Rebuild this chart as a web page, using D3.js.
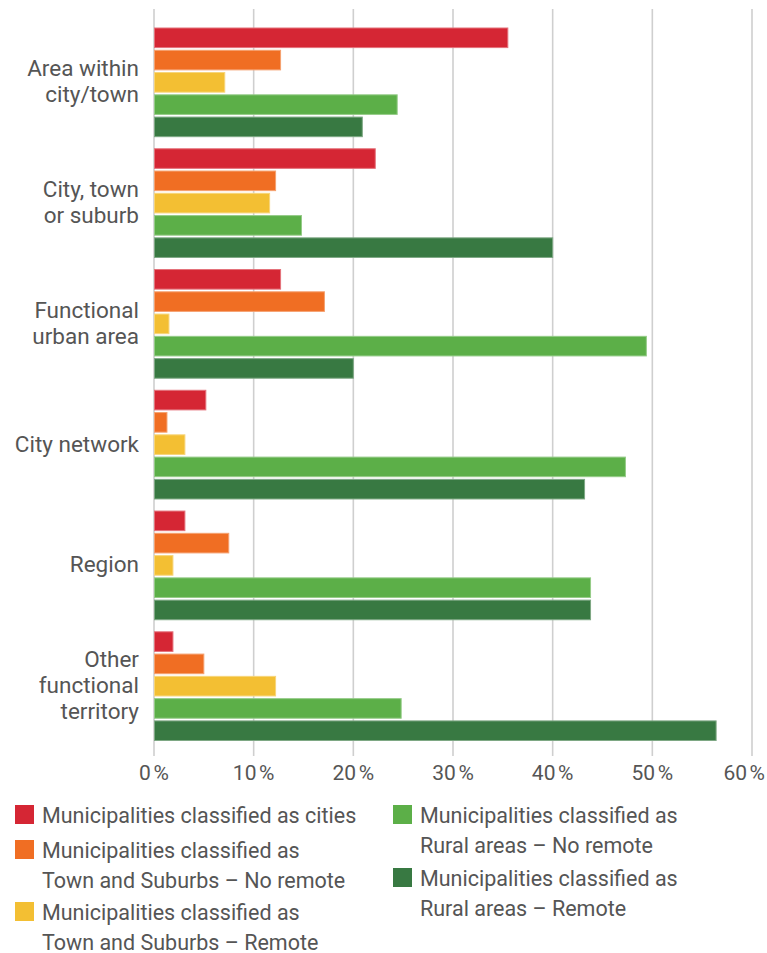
<!DOCTYPE html>
<html>
<head>
<meta charset="utf-8">
<script src="https://cdn.jsdelivr.net/npm/d3@7"></script>
<style>
  html, body { margin: 0; padding: 0; background: #fff; }
  svg text { font-family: Roboto, "Noto Sans", sans-serif; fill: #555; }
</style>
</head>
<body>
<svg id="chart" width="767" height="953"></svg>
<script>
// Territorial levels (y categories), each may span several lines
const categories = [
  ["Area within", "city/town"],
  ["City, town", "or suburb"],
  ["Functional", "urban area"],
  ["City network"],
  ["Region"],
  ["Other", "functional", "territory"]
];

// Series names, colours and values (share of municipalities, %)
const seriesNames = [
  "Municipalities classified as cities",
  "Municipalities classified as Town and Suburbs – No remote",
  "Municipalities classified as Town and Suburbs – Remote",
  "Municipalities classified as Rural areas – No remote",
  "Municipalities classified as Rural areas – Remote"
];
const seriesColors = ["#d52634", "#f06e23", "#f3bf33", "#5caf48", "#387942"];

const cities        = [35.5, 22.2, 12.7,  5.2,  3.1,  1.9];
const townsNoRemote = [12.7, 12.2, 17.1,  1.3,  7.5,  5.0];
const townsRemote   = [ 7.1, 11.6,  1.5,  3.1,  1.9, 12.2];
const ruralNoRemote = [24.4, 14.8, 49.4, 47.3, 43.8, 24.8];
const ruralRemote   = [20.9, 40.0, 20.0, 43.2, 43.8, 56.4];
const seriesValues = [cities, townsNoRemote, townsRemote, ruralNoRemote, ruralRemote];

const xTicks = [0, 10, 20, 30, 40, 50, 60];

// Legend layout: [series index, column, label lines]
const legendItems = [
  [0, 0, ["Municipalities classified as cities"]],
  [1, 0, ["Municipalities classified as", "Town and Suburbs – No remote"]],
  [2, 0, ["Municipalities classified as", "Town and Suburbs – Remote"]],
  [3, 1, ["Municipalities classified as", "Rural areas – No remote"]],
  [4, 1, ["Municipalities classified as", "Rural areas – Remote"]]
];

const W = 767;
const svg = d3.select("#chart");

const x = d3.scaleLinear().domain([0, 60]).range([154, 752]);
const y0 = d3.scaleBand().domain(d3.range(categories.length)).range([28, 740.5]).paddingInner(0.1);
const y1 = d3.scaleBand().domain(d3.range(seriesNames.length)).range([0, y0.bandwidth()]).paddingInner(0.12);

// Vertical gridlines
svg.append("g").selectAll("line").data(xTicks).join("line")
  .attr("x1", d => x(d)).attr("x2", d => x(d))
  .attr("y1", 9).attr("y2", 756)
  .attr("stroke", "#cfcfcf").attr("stroke-width", 1.6);

// Tick labels (kept inside the right edge)
svg.append("g").selectAll("text").data(xTicks).join("text")
  .attr("y", 780)
  .attr("text-anchor", "middle")
  .attr("font-size", 21)
  .text(d => d + "\u202F%")
  .attr("x", function (d) {
    const half = this.getComputedTextLength() / 2;
    return Math.min(x(d), W - 2 - half);
  });

// Bars
const groups = svg.append("g").selectAll("g").data(categories).join("g")
  .attr("transform", (d, i) => `translate(0,${y0(i)})`);

groups.selectAll("rect")
  .data((d, i) => seriesValues.map((vals, s) => ({ s, v: vals[i] })))
  .join("rect")
  .attr("x", x(0) + 0.5)
  .attr("y", d => y1(d.s))
  .attr("width", d => x(d.v) - x(0) - 0.5)
  .attr("height", y1.bandwidth())
  .attr("fill", d => seriesColors[d.s])
  .attr("stroke", d => d3.interpolateRgb(seriesColors[d.s], "#fff")(0.35))
  .attr("stroke-width", 1);

// Category labels
const lineH = 26;
svg.append("g").selectAll("text").data(categories).join("text")
  .attr("text-anchor", "end")
  .attr("font-size", 22.5)
  .each(function (lines, i) {
    const cy = y0(i) + y0.bandwidth() / 2;
    const t = d3.select(this);
    lines.forEach((ln, k) => {
      t.append("tspan")
        .attr("x", 139)
        .attr("y", cy + 7 + (k - (lines.length - 1) / 2) * lineH)
        .text(ln);
    });
  });

// Legend
const colX = [15, 393];
const rowY = [[805, 840, 902], [805, 868]];
const legend = svg.append("g");
const colCount = [0, 0];
legendItems.forEach(([s, col, lines]) => {
  const top = rowY[col][colCount[col]++];
  legend.append("rect")
    .attr("x", colX[col]).attr("y", top)
    .attr("width", 19).attr("height", 19)
    .attr("fill", seriesColors[s]);
  const t = legend.append("text").attr("font-size", 21.5);
  lines.forEach((ln, k) => {
    t.append("tspan")
      .attr("x", colX[col] + 27)
      .attr("y", top + 18 + k * 29.5)
      .text(ln);
  });
});
</script>
</body>
</html>
